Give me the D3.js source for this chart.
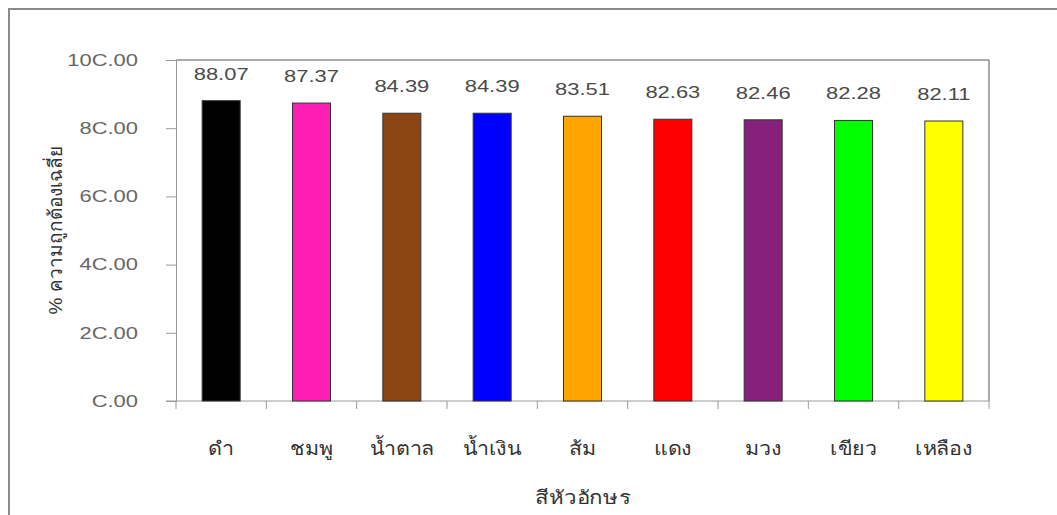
<!DOCTYPE html>
<html>
<head>
<meta charset="utf-8">
<script src="https://cdn.jsdelivr.net/npm/d3@7"></script>
<style>
  body { margin: 0; background: #fff; }
  svg { display: block; font-family: "Liberation Sans", Arial, sans-serif; }
</style>
</head>
<body>
<svg id="chart"></svg>
<script>
const categories = ["ดำ", "ชมพู", "น้ำตาล", "น้ำเงิน", "ส้ม", "แดง", "มวง", "เขียว", "เหลือง"];
const values = [88.07, 87.37, 84.39, 84.39, 83.51, 82.63, 82.46, 82.28, 82.11];
const barColors = ["#000000", "#ff1fb2", "#8b4513", "#0000ff", "#ffa500", "#ff0000", "#87207a", "#00ff00", "#ffff00"];
const yTicks = [0, 20, 40, 60, 80, 100];
const xTitle = "สีหัวอักษร";
const yTitle = "% ความถูกต้องเฉลี่ย";

const width = 1057, height = 515;
const margin = { top: 60, right: 68, bottom: 114, left: 176 };
const numStretch = 1.33;   // the original's digits are drawn wide
const thaiStretch = 1.13;

const svg = d3.select("#chart").attr("width", width).attr("height", height);

// outer frame
svg.append("rect")
  .attr("x", 9).attr("y", 9)
  .attr("width", width + 20).attr("height", height + 20)
  .attr("fill", "none").attr("stroke", "#8a8a8a").attr("stroke-width", 2);

const x = d3.scaleBand()
  .domain(categories)
  .range([margin.left, width - margin.right])
  .paddingInner(0).paddingOuter(0);

const y = d3.scaleLinear()
  .domain([0, 100])
  .range([height - margin.bottom, margin.top]);

// plot area top and right border
svg.append("path")
  .attr("d", `M${margin.left},${margin.top}H${width - margin.right}V${height - margin.bottom}`)
  .attr("fill", "none").attr("stroke", "#555").attr("stroke-width", 1);

const fmt = d => d3.format(".2f")(d).replace(/0\./, "C.");

const yAxis = svg.append("g")
  .attr("transform", `translate(${margin.left},0)`)
  .call(d3.axisLeft(y).tickValues(yTicks).tickFormat(fmt).tickSize(10).tickPadding(28));
yAxis.select(".domain").attr("stroke", "#9a9a9a");
yAxis.selectAll(".tick line").attr("stroke", "#9a9a9a");
yAxis.selectAll(".tick text")
  .attr("x", null)
  .attr("transform", `translate(-38,0) scale(${numStretch},1)`)
  .attr("fill", "#666").attr("font-size", 16.5);

// category boundary ticks on x axis
const xAxisG = svg.append("g")
  .attr("transform", `translate(0,${height - margin.bottom})`);
xAxisG.append("line")
  .attr("x1", margin.left - 10).attr("x2", width - margin.right)
  .attr("stroke", "#9a9a9a");
xAxisG.selectAll(".bt")
  .data(categories.concat([null]))
  .join("line")
  .attr("x1", (d, i) => i < categories.length ? x(d) : x.range()[1])
  .attr("x2", (d, i) => i < categories.length ? x(d) : x.range()[1])
  .attr("y1", 0).attr("y2", 8)
  .attr("stroke", "#9a9a9a");
xAxisG.selectAll(".lbl")
  .data(categories)
  .join("text")
  .attr("transform", d => `translate(${x(d) + x.bandwidth() / 2},54) scale(${thaiStretch},1)`)
  .attr("text-anchor", "middle")
  .attr("font-size", 19)
  .attr("fill", "#333")
  .text(d => d);

const barW = 38;
svg.selectAll(".bar")
  .data(values)
  .join("rect")
  .attr("x", (d, i) => x(categories[i]) + x.bandwidth() / 2 - barW / 2)
  .attr("y", d => y(d))
  .attr("width", barW)
  .attr("height", d => y(0) - y(d))
  .attr("fill", (d, i) => barColors[i])
  .attr("stroke", "#333").attr("stroke-width", 1);

svg.selectAll(".val")
  .data(values)
  .join("text")
  .attr("transform", (d, i) => `translate(${x(categories[i]) + x.bandwidth() / 2},${y(d) - 21}) scale(${numStretch},1)`)
  .attr("text-anchor", "middle")
  .attr("font-size", 16.5)
  .attr("fill", "#4a4a4a")
  .text(d => d3.format(".2f")(d));

svg.append("text")
  .attr("transform", `translate(${(margin.left + width - margin.right) / 2},504) scale(1.17,1)`)
  .attr("text-anchor", "middle")
  .attr("font-size", 19)
  .attr("fill", "#333")
  .text(xTitle);

svg.append("text")
  .attr("transform", `translate(62,${(margin.top + height - margin.bottom) / 2}) rotate(-90)`)
  .attr("text-anchor", "middle")
  .attr("font-size", 19)
  .attr("fill", "#333")
  .text(yTitle);
</script>
</body>
</html>
